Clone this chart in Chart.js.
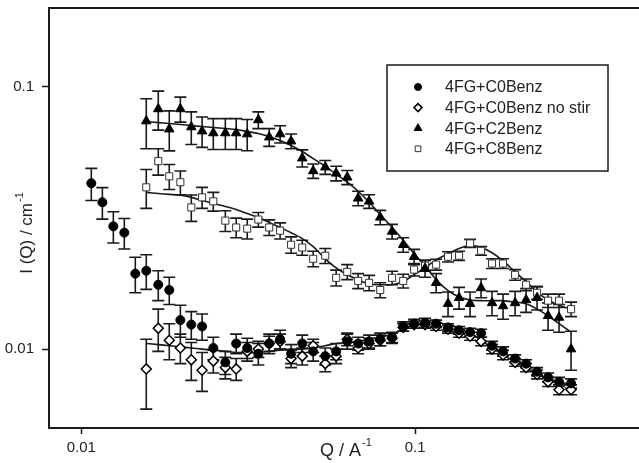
<!DOCTYPE html>
<html>
<head>
<meta charset="utf-8">
<script src="https://cdn.jsdelivr.net/npm/chart.js@4.4.1/dist/chart.umd.min.js"></script>
<style>
  html, body { margin: 0; padding: 0; background: #fff; }
  #wrap { width: 639px; height: 463px; }
</style>
</head>
<body>
<div id="wrap"><canvas id="saxs" width="639" height="463"></canvas></div>
<script>
// Q values (A^-1)
const qLow = [0.01071, 0.01156, 0.01247, 0.01345, 0.01451];
const qMain = [0.01565, 0.0170, 0.01834, 0.0198, 0.02135, 0.0230, 0.02485, 0.0270, 0.0291, 0.0314,
  0.0339, 0.03655, 0.0394, 0.0425, 0.0459, 0.0495, 0.0538, 0.0580, 0.0626, 0.0675,
  0.0728, 0.0786, 0.0853, 0.0921, 0.0993, 0.1071, 0.1156, 0.1255, 0.1354, 0.1461,
  0.1576, 0.1700, 0.1834, 0.1993, 0.2150, 0.2319, 0.2502, 0.2699, 0.2932];

// 4FG+C0Benz (circles), starts at lower Q
const iC0 = [0.0429, 0.0363, 0.0294, 0.0278, 0.0194,
  0.0199, 0.0176, 0.0168, 0.0129, 0.0124, 0.0122, 0.0101, 0.0089, 0.0105, 0.0101,
  0.0096, 0.0105, 0.0109, 0.0096, 0.0105, 0.0098, 0.0094, 0.0098, 0.0107, 0.0105,
  0.0107, 0.0109, 0.0111, 0.0122, 0.0125, 0.0126, 0.0125, 0.0121, 0.0118, 0.0116,
  0.0115, 0.0103, 0.0098, 0.0092, 0.0088, 0.0082, 0.0078, 0.0075, 0.0074];
const errC0 = [0.006, 0.005, 0.004, 0.0037, 0.003,
  0.003, 0.0023, 0.002, 0.0018, 0.0015, 0.0014, 0.001, 0.0009, 0.0009, 0.0009,
  0.0009, 0.0009, 0.0009, 0.0008, 0.0008, 0.0008, 0.0007, 0.0007, 0.0007, 0.0006,
  0.0006, 0.0006, 0.0005, 0.0005, 0.0005, 0.0005, 0.0004, 0.0004, 0.0004, 0.0004,
  0.0004, 0.0004, 0.0004, 0.0003, 0.0003, 0.0003, 0.0003, 0.0003, 0.0003];

// 4FG+C0Benz no stir (diamonds)
const iC0ns = [0.0084, 0.0120, 0.0108, 0.0101, 0.0091, 0.0083, 0.0090, 0.0085, 0.0084, 0.0098,
  0.0100, 0.0105, 0.0107, 0.0092, 0.0094, 0.0103, 0.0088, 0.0094, 0.0109, 0.0101,
  0.0105, 0.0108, 0.0110, 0.0121, 0.0124, 0.0124, 0.0122, 0.0119, 0.0115, 0.0112,
  0.0107, 0.0100, 0.0095, 0.0089, 0.0085, 0.0080, 0.0075, 0.0070, 0.0070];
const errC0ns = [0.0025, 0.0022, 0.0017, 0.0013, 0.0015, 0.0014, 0.0009, 0.0008, 0.0008, 0.0008,
  0.0007, 0.0007, 0.0007, 0.0007, 0.0007, 0.0006, 0.0006, 0.0006, 0.0006, 0.0005,
  0.0005, 0.0005, 0.0005, 0.0004, 0.0004, 0.0004, 0.0004, 0.0004, 0.0004, 0.0004,
  0.0004, 0.0004, 0.0004, 0.0003, 0.0003, 0.0003, 0.0003, 0.0003, 0.0003];

// 4FG+C2Benz (triangles)
const iC2 = [0.0741, 0.0824, 0.0690, 0.0824, 0.0703, 0.0678, 0.0667, 0.0667, 0.0667, 0.0661,
  0.0748, 0.0643, 0.0661, 0.0621, 0.0535, 0.0478, 0.0494, 0.0468, 0.0452, 0.0376,
  0.0366, 0.0318, 0.0281, 0.0250, 0.0225, 0.0203, 0.0179, 0.0149, 0.0157, 0.0149,
  0.0171, 0.0150, 0.0146, 0.0150, 0.0154, 0.0157, 0.0134, 0.0132, 0.0100];
const errC2 = [0.016, 0.014, 0.012, 0.009, 0.010, 0.009, 0.009, 0.009, 0.009, 0.009,
  0.0055, 0.005, 0.005, 0.004, 0.004, 0.003, 0.003, 0.003, 0.0028, 0.0024,
  0.0022, 0.002, 0.0018, 0.0016, 0.0015, 0.0015, 0.0015, 0.0016, 0.0015, 0.0016,
  0.0014, 0.0016, 0.0016, 0.0016, 0.0016, 0.0016, 0.0016, 0.0016, 0.0017];

// 4FG+C8Benz (open squares)
const iC8 = [0.0414, 0.0521, 0.0456, 0.0433, 0.0347, 0.0379, 0.0366, 0.0309, 0.0291, 0.0288,
  0.0312, 0.0291, 0.0283, 0.0250, 0.0244, 0.0221, 0.0227, 0.0187, 0.0197, 0.0182,
  0.0179, 0.0168, 0.0187, 0.0182, 0.0201, 0.0208, 0.0210, 0.0225, 0.0227, 0.0253,
  0.0237, 0.0212, 0.0212, 0.0192, 0.0176, 0.0164, 0.0153, 0.0153, 0.0142];
const errC8 = [0.007, 0.006, 0.005, 0.0045, 0.004, 0.0035, 0.003, 0.0028, 0.0025, 0.0025,
  0.002, 0.002, 0.002, 0.0018, 0.0016, 0.0015, 0.0015, 0.0013, 0.0013, 0.0012,
  0.0012, 0.0011, 0.0011, 0.0011, 0.0011, 0.001, 0.001, 0.001, 0.0009, 0.0009,
  0.0009, 0.0009, 0.0009, 0.0009, 0.0009, 0.0009, 0.0009, 0.0009, 0.0009];

// model fits
const fitC0 = [0.0105, 0.0104, 0.0103, 0.0102, 0.0101, 0.0100, 0.0099, 0.0098, 0.0097, 0.0097,
  0.0097, 0.0098, 0.0099, 0.0100, 0.0100, 0.0101, 0.0103, 0.0105, 0.0106, 0.0107,
  0.0109, 0.0111, 0.0114, 0.0119, 0.0124, 0.0126, 0.0126, 0.0124, 0.0120, 0.0115,
  0.0108, 0.0101, 0.0095, 0.0089, 0.0085, 0.0080, 0.0077, 0.0075, 0.0073];
const fitC2 = [0.0738, 0.0731, 0.0725, 0.0719, 0.0712, 0.0706, 0.0700, 0.0694, 0.0688, 0.0676,
  0.0664, 0.0647, 0.0624, 0.0598, 0.0567, 0.0533, 0.0498, 0.0465, 0.0433, 0.0400,
  0.0363, 0.0326, 0.0291, 0.0260, 0.0231, 0.0208, 0.0184, 0.0167, 0.0158, 0.0154,
  0.0153, 0.0153, 0.0153, 0.0151, 0.0149, 0.0142, 0.0134, 0.0125, 0.0116];
const fitC8 = [0.0396, 0.0392, 0.0389, 0.0386, 0.0379, 0.0369, 0.0359, 0.0350, 0.0341, 0.0329,
  0.0318, 0.0304, 0.0291, 0.0278, 0.0264, 0.0246, 0.0221, 0.0204, 0.0192, 0.0184,
  0.0177, 0.0176, 0.0176, 0.0181, 0.0192, 0.0204, 0.0219, 0.0231, 0.0242, 0.0248,
  0.0244, 0.0233, 0.0217, 0.0197, 0.0181, 0.0165, 0.0154, 0.0147, 0.0142];

const xTicks = [0.01, 0.1];
const yTicks = [0.01, 0.1];
const seriesNames = ['4FG+C0Benz', '4FG+C0Benz no stir', '4FG+C2Benz', '4FG+C8Benz'];

const FONT = "'Liberation Sans', Arial, sans-serif";
const INK = '#1a1a1a';

const pts = (qs, ys) => qs.map((q, i) => ({ x: q, y: ys[i] }));
const qC0 = qLow.concat(qMain);

const markers = [
  { pointStyle: 'circle', pointRadius: 4.5, backgroundColor: '#000', borderColor: '#000', borderWidth: 1 },
  { pointStyle: 'rectRot', pointRadius: 5, backgroundColor: '#fff', borderColor: '#000', borderWidth: 1.5 },
  { pointStyle: 'triangle', pointRadius: 5.5, backgroundColor: '#000', borderColor: '#000', borderWidth: 1 },
  { pointStyle: 'rect', pointRadius: 5, backgroundColor: '#fff', borderColor: '#333', borderWidth: 1 }
];

function fitLine(ys) {
  return {
    data: pts(qMain, ys), showLine: true, pointRadius: 0, borderColor: INK,
    borderWidth: 1.6, tension: 0.3, fill: false, order: 5
  };
}

// the plot runs off the right edge of the picture: stretch the x scale to the canvas edge
const stretchRight = {
  id: 'stretchRight',
  afterLayout(chart) {
    const a = chart.chartArea, x = chart.scales.x;
    a.right = chart.width; a.width = a.right - a.left;
    x.right = chart.width; x.width = x.right - x.left;
    x.configure();
  }
};

const errorBars = {
  id: 'errorBars',
  beforeDatasetsDraw(chart) {
    const { ctx, scales: { x, y } } = chart;
    ctx.save();
    ctx.strokeStyle = INK;
    ctx.lineWidth = 1.6;
    chart.data.datasets.forEach(ds => {
      if (!ds.errors) return;
      ds.data.forEach((p, j) => {
        const e = ds.errors[j];
        const px = x.getPixelForValue(p.x);
        const top = y.getPixelForValue(p.y + e);
        const bot = y.getPixelForValue(Math.max(p.y - e, 1e-5));
        ctx.beginPath();
        ctx.moveTo(px, top); ctx.lineTo(px, bot);
        ctx.moveTo(px - 6, top); ctx.lineTo(px + 6, top);
        ctx.moveTo(px - 6, bot); ctx.lineTo(px + 6, bot);
        ctx.stroke();
      });
    });
    ctx.restore();
  }
};

const decorations = {
  id: 'decorations',
  afterDraw(chart) {
    const { ctx, chartArea: a } = chart;
    ctx.save();
    // top frame line
    ctx.strokeStyle = INK;
    ctx.lineWidth = 2;
    ctx.beginPath();
    ctx.moveTo(a.left - 1, a.top); ctx.lineTo(chart.width, a.top);
    ctx.moveTo(a.left - 1, a.bottom); ctx.lineTo(chart.width, a.bottom);
    ctx.stroke();

    // axis titles with superscripts
    ctx.fillStyle = '#222';
    ctx.textBaseline = 'alphabetic';
    ctx.font = '18px ' + FONT;
    const xt = 'Q / A';
    ctx.textAlign = 'left';
    ctx.fillText(xt, 320, 456);
    let w = ctx.measureText(xt).width;
    ctx.font = '11px ' + FONT;
    ctx.fillText('-1', 320 + w + 1, 446);

    ctx.translate(32, 233);
    ctx.rotate(-Math.PI / 2);
    const yt = 'I (Q) / cm';
    ctx.font = '11px ' + FONT;
    const sw = ctx.measureText('-1').width;
    ctx.font = '17px ' + FONT;
    w = ctx.measureText(yt).width;
    const x0 = -(w + sw + 1) / 2;
    ctx.fillText(yt, x0, 0);
    ctx.font = '11px ' + FONT;
    ctx.fillText('-1', x0 + w + 1, -9);
    ctx.restore();

    // legend box
    ctx.save();
    ctx.strokeStyle = INK;
    ctx.lineWidth = 1.5;
    ctx.strokeRect(387, 65, 221, 106);
    ctx.font = '16px ' + FONT;
    ctx.textBaseline = 'middle';
    ctx.textAlign = 'left';
    seriesNames.forEach((name, i) => {
      const yy = 87 + i * 20.6;
      const m = markers[i];
      ctx.lineWidth = m.borderWidth;
      ctx.fillStyle = m.backgroundColor;
      ctx.strokeStyle = m.borderColor;
      Chart.helpers.drawPoint(ctx, { pointStyle: m.pointStyle, radius: m.pointRadius - 1, rotation: 0, borderWidth: m.borderWidth }, 418, yy);
      ctx.fillStyle = '#222';
      ctx.fillText(name, 445, yy + 1);
    });
    ctx.restore();
  }
};

new Chart(document.getElementById('saxs').getContext('2d'), {
  type: 'scatter',
  data: {
    datasets: [
      Object.assign({ label: seriesNames[0], data: pts(qC0, iC0), errors: errC0 }, markers[0]),
      Object.assign({ label: seriesNames[1], data: pts(qMain, iC0ns), errors: errC0ns }, markers[1]),
      Object.assign({ label: seriesNames[2], data: pts(qMain, iC2), errors: errC2 }, markers[2]),
      Object.assign({ label: seriesNames[3], data: pts(qMain, iC8), errors: errC8 }, markers[3]),
      fitLine(fitC0),
      fitLine(fitC2),
      fitLine(fitC8)
    ]
  },
  options: {
    responsive: false,
    animation: false,
    events: [],
    layout: { padding: { top: 8, right: 0, bottom: 0, left: 0 } },
    plugins: { legend: { display: false }, tooltip: { enabled: false } },
    scales: {
      x: {
        type: 'logarithmic',
        min: 0.008,
        max: 0.4685,
        afterBuildTicks: s => { s.ticks = xTicks.map(v => ({ value: v })); },
        afterFit: s => { s.height = 35; s.paddingLeft = 0; s.paddingRight = 0; },
        ticks: {
          autoSkip: false, maxRotation: 0, padding: 5, color: '#222',
          font: { family: FONT, size: 15 },
          callback: v => String(v)
        },
        grid: { drawOnChartArea: false, drawTicks: true, tickLength: 6, tickColor: INK, tickWidth: 1.5 },
        border: { display: true, color: INK, width: 2 }
      },
      y: {
        type: 'logarithmic',
        min: 0.005,
        max: 0.2,
        afterBuildTicks: s => { s.ticks = yTicks.map(v => ({ value: v })); },
        afterFit: s => { s.width = 49; s.paddingTop = 0; s.paddingBottom = 0; },
        ticks: {
          autoSkip: false, padding: 8, color: '#222',
          font: { family: FONT, size: 15 },
          callback: v => String(v)
        },
        grid: { drawOnChartArea: false, drawTicks: true, tickLength: 7, tickColor: INK, tickWidth: 1.5 },
        border: { display: true, color: INK, width: 2 }
      }
    }
  },
  plugins: [stretchRight, errorBars, decorations]
});
</script>
</body>
</html>
